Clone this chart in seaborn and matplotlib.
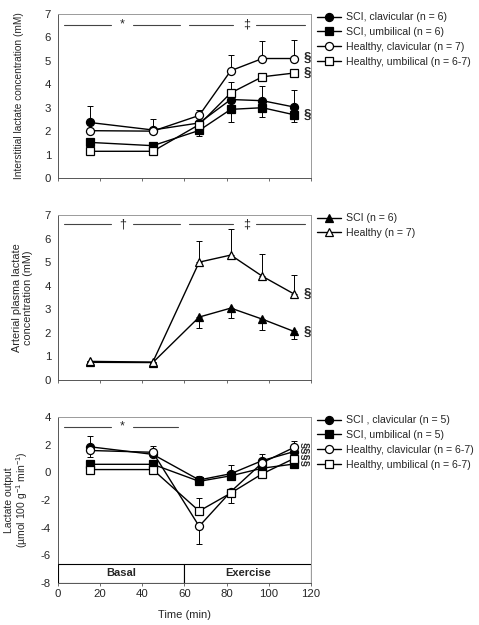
import matplotlib
matplotlib.use('Agg')
import matplotlib.pyplot as plt
import matplotlib.patches as patches
import numpy as np
import pandas as pd
import seaborn as sns

# time points (min)
time = [15, 45, 67, 82, 97, 112]

# panel A: interstitial lactate (mM)
a_sci_clav = [2.37, 2.05, 2.35, 3.35, 3.30, 3.03]
a_sci_umb = [1.52, 1.38, 2.03, 2.93, 3.00, 2.70]
a_hea_clav = [2.02, 2.00, 2.67, 4.58, 5.10, 5.10]
a_hea_umb = [1.14, 1.14, 2.28, 3.63, 4.32, 4.48]
a_sci_clav_err = [0.70, 0.45, 0.0, 0.0, 0.62, 0.72]
a_sci_umb_err = [0.0, 0.0, 0.23, 0.53, 0.40, 0.32]
a_hea_clav_err = [0.0, 0.0, 0.25, 0.67, 0.75, 0.77]
a_hea_umb_err = [0.0, 0.0, 0.0, 0.45, 0.0, 0.0]

# panel B: arterial plasma lactate (mM)
b_sci = [0.75, 0.74, 2.67, 3.05, 2.58, 2.06]
b_hea = [0.79, 0.76, 5.00, 5.30, 4.40, 3.65]
b_sci_err = [0.0, 0.0, 0.47, 0.42, 0.45, 0.30]
b_hea_err = [0.0, 0.0, 0.91, 1.10, 0.95, 0.82]

# panel C: lactate output (umol 100 g-1 min-1)
c_sci_clav = [1.85, 1.30, -0.55, -0.10, 0.85, 1.50]
c_sci_umb = [0.58, 0.58, -0.65, -0.25, 0.30, 0.60]
c_hea_clav = [1.58, 1.45, -3.90, -1.40, 0.70, 1.80]
c_hea_umb = [0.20, 0.20, -2.80, -1.50, -0.10, 1.00]
c_sci_clav_hi = [0.80, 0.0, 0.30, 0.60, 0.45, 0.0]
c_hea_clav_lo = [0.50, 0.0, 1.30, 0.0, 0.0, 0.0]
c_hea_clav_hi = [0.0, 0.45, 0.0, 0.0, 0.0, 0.50]
c_hea_umb_hi = [0.0, 0.0, 0.95, 0.0, 0.0, 0.0]
c_hea_umb_lo = [0.0, 0.0, 0.0, 0.70, 0.0, 0.0]

sns.set_style('white')
plt.rcParams['font.family'] = ['Liberation Sans', 'DejaVu Sans']
plt.rcParams['font.size'] = 7.5
plt.rcParams['axes.unicode_minus'] = False
plt.rcParams['mathtext.fontset'] = 'custom'
plt.rcParams['mathtext.rm'] = 'Liberation Sans'
plt.rcParams['mathtext.it'] = 'Liberation Sans'

fig = plt.figure(figsize=(4.79, 6.25), dpi=100)
axA = fig.add_axes([0.121, 0.7152, 0.528, 0.2624])
axB = fig.add_axes([0.121, 0.392, 0.528, 0.264])
axC = fig.add_axes([0.121, 0.0672, 0.528, 0.2656])

ms = 5.8


def series(ax, y, marker, filled, label, lo=None, hi=None):
    fc = 'black' if filled else 'white'
    if lo is not None or hi is not None:
        lo = np.zeros(len(y)) if lo is None else np.array(lo)
        hi = np.zeros(len(y)) if hi is None else np.array(hi)
        ax.errorbar(time, y, yerr=[lo, hi], fmt='none', ecolor='black',
                    elinewidth=0.7, capsize=2.3, capthick=0.7, zorder=2)
    sns.lineplot(x=time, y=y, ax=ax, color='black', lw=1.0, marker=marker,
                 markersize=ms, markerfacecolor=fc, markeredgecolor='black',
                 markeredgewidth=0.9, label=label, zorder=3)


def style_axes(ax, ylim, yticks, xlabels):
    ax.set_xlim(0, 120)
    ax.set_ylim(*ylim)
    ax.set_xticks(range(0, 121, 20))
    ax.set_yticks(yticks)
    if not xlabels:
        ax.set_xticklabels([])
    for s in ax.spines.values():
        s.set_color('#9a9a9a')
        s.set_linewidth(0.7)
    ax.spines['left'].set_color('#555555')
    ax.spines['bottom'].set_color('#555555')
    ax.tick_params(axis='both', which='both', direction='out', length=2.5,
                   width=0.6, color='#555555', labelsize=8.2, pad=2,
                   bottom=True, left=True)
    ax.tick_params(axis='y', length=0, pad=5)
    ax.set_xlabel('')


def sig(ax, y, segs, marks):
    for x0, x1 in segs:
        ax.plot([x0, x1], [y, y], color='#444444', lw=0.8)
    for x, m in marks:
        ax.text(x, y, m, ha='center', va='center', fontsize=9)


def legend(ax):
    leg = ax.legend(loc='upper left', bbox_to_anchor=(1.025, 1.01), frameon=False,
                    fontsize=7.6, handlelength=2.3, handletextpad=0.4,
                    labelspacing=0.45, borderaxespad=0.0, borderpad=0.0)
    return leg


# Panel A
series(axA, a_sci_clav, 'o', True, 'SCI, clavicular (n = 6)', hi=a_sci_clav_err)
series(axA, a_sci_umb, 's', True, 'SCI, umbilical (n = 6)', lo=a_sci_umb_err)
series(axA, a_hea_clav, 'o', False, 'Healthy, clavicular (n = 7)', hi=a_hea_clav_err)
series(axA, a_hea_umb, 's', False, 'Healthy, umbilical (n = 6-7)', hi=a_hea_umb_err)
style_axes(axA, (0, 7), range(0, 8), False)
sig(axA, 6.55, [(3, 25), (35.5, 58), (62, 83), (94, 117)], [(30.5, '*'), (89.5, '‡')])
for yv in [5.12, 4.47, 2.68]:
    axA.text(116.5, yv, '§', ha='left', va='center', fontsize=9.5, fontweight='bold')
axA.set_ylabel('Interstitial lactate concentration (mM)', fontsize=7.3)
axA.yaxis.set_label_coords(-0.135, 0.5)
legend(axA)

# Panel B
series(axB, b_sci, '^', True, 'SCI (n = 6)', lo=b_sci_err)
series(axB, b_hea, '^', False, 'Healthy (n = 7)', hi=b_hea_err)
style_axes(axB, (0, 7), range(0, 8), False)
sig(axB, 6.6, [(3, 25), (35.5, 58), (62, 83), (94, 117)], [(30.5, '†'), (89.5, '‡')])
for yv in [3.65, 2.06]:
    axB.text(116.5, yv, '§', ha='left', va='center', fontsize=9.5, fontweight='bold')
axB.set_ylabel('Arterial plasma lactate\nconcentration (mM)', fontsize=7.8, linespacing=1.05)
axB.yaxis.set_label_coords(-0.1, 0.5)
legend(axB)

# Panel C
series(axC, c_sci_clav, 'o', True, 'SCI , clavicular (n = 5)', hi=c_sci_clav_hi)
series(axC, c_sci_umb, 's', True, 'SCI, umbilical (n = 5)')
series(axC, c_hea_clav, 'o', False, 'Healthy, clavicular (n = 6-7)',
       lo=c_hea_clav_lo, hi=c_hea_clav_hi)
series(axC, c_hea_umb, 's', False, 'Healthy, umbilical (n = 6-7)',
       lo=c_hea_umb_lo, hi=c_hea_umb_hi)
style_axes(axC, (-8, 4), range(-8, 5, 2), True)
sig(axC, 3.3, [(3, 25), (35.5, 57)], [(30.5, '*')])
axC.text(117.2, 1.3, '§§§§', ha='center', va='center', rotation=-90,
         fontsize=8, fontweight='bold')
for x0, lab in [(0, 'Basal'), (60, 'Exercise')]:
    axC.add_patch(patches.Rectangle((x0, -8), 60, 1.4, facecolor='white',
                                    edgecolor='black', lw=0.8, zorder=4))
    axC.text(x0 + 30, -7.3, lab, ha='center', va='center', fontsize=8,
             fontweight='bold', zorder=5)
axC.set_ylabel('Lactate output\n(µmol 100 g$^{-1}$ min$^{-1}$)', fontsize=7.5, linespacing=1.05)
axC.yaxis.set_label_coords(-0.11, 0.5)
axC.set_xlabel('Time (min)', fontsize=8, labelpad=8)
legend(axC)

plt.savefig('out.png', dpi=100)
